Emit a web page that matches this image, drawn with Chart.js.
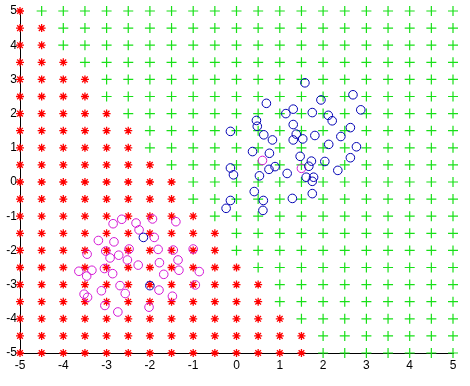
<!DOCTYPE html>
<html>
<head>
<meta charset="utf-8">
<script src="https://cdn.jsdelivr.net/npm/chart.js@4/dist/chart.umd.min.js"></script>
<style>
  html, body { margin: 0; padding: 0; background: #fff; }
  canvas { display: block; }
</style>
</head>
<body>
<canvas id="c" width="470" height="386"></canvas>
<script>
// Axis tick labels
const xTicks = [-5, -4, -3, -2, -1, 0, 1, 2, 3, 4, 5];
const yTicks = [-5, -4, -3, -2, -1, 0, 1, 2, 3, 4, 5];

// Decision grid sample positions
const gridX = [-5, -4.5, -4, -3.5, -3, -2.5, -2, -1.5, -1, -0.5, 0, 0.5, 1, 1.5, 2, 2.5, 3, 3.5, 4, 4.5, 5];
const gridY = [5, 4.5, 4, 3.5, 3, 2.5, 2, 1.5, 1, 0.5, 0, -0.5, -1, -1.5, -2, -2.5, -3, -3.5, -4, -4.5, -5];
// For each grid row (same order as gridY): last x classified as class 1 (red *)
const redMaxX = [-5, -4.5, -4.5, -4, -3.5, -3.5, -3, -2.5, -2.5, -2, -1.5, -1.5, -1, -0.5, -0.5, 0, 0.5, 0.5, 1, 1.5, 1.5];

// Training samples, class 1 (magenta circles)
const class1X = [-2.85, -2.65, -2.32, -1.94, -1.40, -2.25, -1.90, -3.19, -2.83, -2.48, -1.81, -1.46, -1.00, -3.45, -3.02, -2.92, -2.72, -2.52, -1.35, -3.64, -3.34, -3.05, -2.86, -2.27, -1.78, -1.68, -1.33, -0.86, -3.46, -2.69, -3.12, -2.57, -1.79, -0.95, -3.52, -3.44, -3.04, -1.48, -2.02, -2.74, 0.60, 1.50];
const class1Y = [-1.22, -1.09, -1.20, -1.08, -1.16, -1.40, -1.62, -1.71, -1.75, -1.96, -1.97, -1.99, -1.96, -2.11, -2.02, -2.22, -2.14, -2.28, -2.28, -2.61, -2.58, -2.53, -2.68, -2.43, -2.36, -2.70, -2.58, -2.62, -2.75, -3.03, -3.18, -3.26, -3.16, -3.01, -3.28, -3.37, -3.61, -3.34, -3.66, -3.80, 0.63, 0.40];

// Training samples, class 2 (blue circles)
const class2X = [1.58, 2.69, 1.95, 0.69, 2.87, 1.31, 1.14, 1.75, 2.12, 2.21, 0.46, 0.48, 1.31, 2.63, -0.14, 0.63, 1.38, 1.81, 2.41, 0.83, 1.31, 1.53, 2.13, 2.77, 0.37, 0.76, 2.63, 1.47, 1.73, 2.04, -0.14, 0.89, 0.75, 1.67, 2.34, -0.07, 0.53, 1.17, 1.61, 1.78, 1.75, 0.41, 1.75, 1.29, -0.14, 0.62, -0.24, 0.61, -2.15, -2.00];
const class2Y = [2.90, 2.55, 2.40, 2.30, 2.11, 2.13, 2.00, 2.03, 1.95, 1.79, 1.80, 1.63, 1.68, 1.59, 1.48, 1.38, 1.40, 1.36, 1.33, 1.23, 1.23, 1.26, 1.10, 1.03, 0.89, 0.84, 0.71, 0.75, 0.61, 0.60, 0.41, 0.45, 0.37, 0.46, 0.34, 0.21, 0.18, 0.25, 0.14, 0.14, 0.02, -0.28, -0.34, -0.48, -0.54, -0.54, -0.77, -0.83, -1.62, -3.03];

// Build grid datasets from the row boundaries
const redPts = [], greenPts = [];
gridY.forEach((y, i) => {
  gridX.forEach(x => {
    if (x <= redMaxX[i]) redPts.push({x, y}); else greenPts.push({x, y});
  });
});
const c1 = class1X.map((x, i) => ({x, y: class1Y[i]}));
const c2 = class2X.map((x, i) => ({x, y: class2Y[i]}));

const font = { family: "'Liberation Sans', Arial, sans-serif", size: 12 };

new Chart(document.getElementById('c'), {
  type: 'scatter',
  data: {
    datasets: [
      { data: c2, pointStyle: 'circle', pointRadius: 4.3, borderColor: '#0000B4', backgroundColor: 'rgba(0,0,0,0)', borderWidth: 1, order: 0, clip: false },
      { data: c1, pointStyle: 'circle', pointRadius: 4.3, borderColor: '#D418D4', backgroundColor: 'rgba(0,0,0,0)', borderWidth: 1, order: 1, clip: false },
      { data: redPts, pointStyle: 'star', pointRadius: 4, borderColor: '#FF0000', backgroundColor: '#FF0000', borderWidth: 1.3, order: 2, clip: false },
      { data: greenPts, pointStyle: 'cross', pointRadius: 5, borderColor: '#18E018', backgroundColor: '#18E018', borderWidth: 1.2, order: 3, clip: false }
    ]
  },
  options: {
    responsive: false,
    animation: false,
    events: [],
    layout: { padding: { top: 11, right: 17, left: 0, bottom: 0 } },
    plugins: { legend: { display: false }, tooltip: { enabled: false } },
    scales: {
      x: {
        type: 'linear', min: -5, max: 5,
        afterBuildTicks: s => { s.ticks = xTicks.map(v => ({ value: v })); },
        afterFit: s => { s.height = 33; },
        grid: { drawOnChartArea: false, drawTicks: false },
        border: { display: true, color: '#000', width: 1 },
        ticks: { font, color: '#000', padding: 5, maxRotation: 0, autoSkip: false }
      },
      y: {
        type: 'linear', min: -5, max: 5,
        afterBuildTicks: s => { s.ticks = yTicks.map(v => ({ value: v })); },
        afterFit: s => { s.width = 20; },
        grid: { drawOnChartArea: false, drawTicks: false },
        border: { display: true, color: '#000', width: 1 },
        ticks: { font, color: '#000', padding: 3, autoSkip: false }
      }
    }
  }
});
</script>
</body>
</html>
